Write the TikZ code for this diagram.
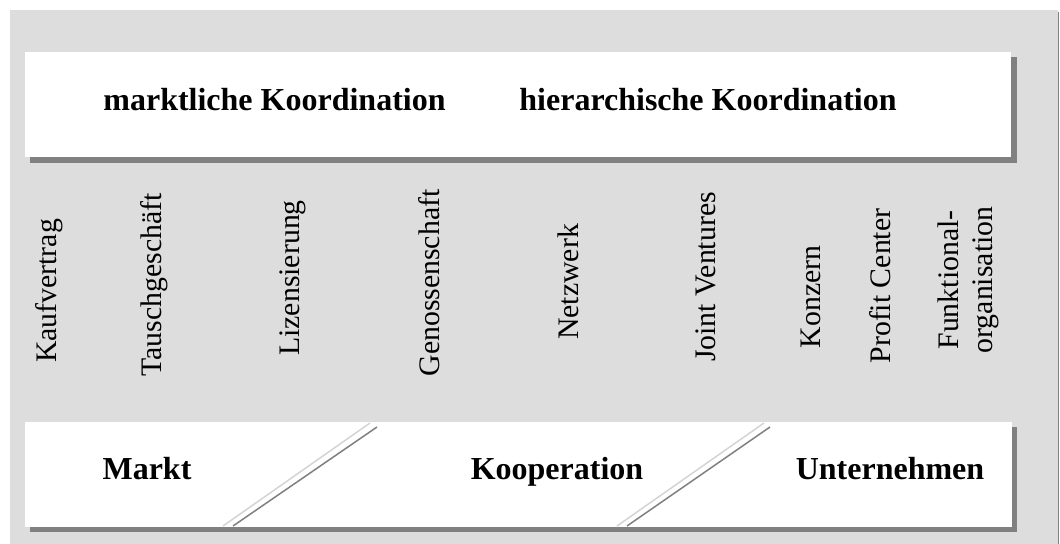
\documentclass[tikz,border=0pt]{standalone}
\usepackage{fontspec}
\setmainfont{Liberation Serif}
\definecolor{panelgray}{HTML}{DDDDDD}
\definecolor{shadowgray}{HTML}{808080}
\definecolor{cutlightgray}{HTML}{D4D4D4}
\begin{document}
\begin{tikzpicture}[x=0.5pt,y=-0.5pt,
  shadowfill/.style={fill=shadowgray},
  bandfill/.style={fill=white},
  cutlight/.style={draw=cutlightgray, line width=0.75pt},
  cutdark/.style={draw=shadowgray, line width=0.75pt},
  heading/.style={font=\bfseries\fontsize{16}{19}\selectfont, inner sep=0pt, anchor=base},
  item/.style={font=\fontsize{14.9}{17}\selectfont, inner sep=0pt, rotate=90, anchor=base}]
\useasboundingbox (0,0) rectangle (1060,544);
% background panel with its right rule
\fill[panelgray] (10,10) rectangle (1058,544);
\draw[shadowgray, line width=0.5pt] (1058.5,12) -- (1058.5,544);

% upper band: coordination forms
\fill[shadowfill] (30,57) rectangle (1017,163);
\fill[bandfill] (25,52) rectangle (1011,157);
\node[heading] (markt-koord) at (274.5,111) {marktliche Koordination};
\node[heading] (hier-koord) at (708,111) {hierarchische Koordination};

% lower band: institutional forms
\fill[shadowfill] (30,427) rectangle (1017,532);
\fill[bandfill] (25,422) rectangle (1012,527);

% diagonal separators in the lower band
\coordinate (cutAlo) at (223,526);
\coordinate (cutAhi) at (370,423);
\coordinate (cutAlo2) at (233,526);
\coordinate (cutAhi2) at (377,427);
\coordinate (cutBlo) at (617,526);
\coordinate (cutBhi) at (764,423);
\coordinate (cutBlo2) at (627,526);
\coordinate (cutBhi2) at (770,427);
\draw[cutlight] (cutAlo) -- (cutAhi);
\draw[cutdark] (cutAlo2) -- (cutAhi2);
\draw[cutlight] (cutBlo) -- (cutBhi);
\draw[cutdark] (cutBlo2) -- (cutBhi2);

\node[heading] (markt) at (147,480) {Markt};
\node[heading] (koop) at (557,480) {Kooperation};
\node[heading] (untern) at (890,480) {Unternehmen};

% arrangements between market and hierarchy
\node[item] (kauf) at (56,291) {Kaufvertrag};
\node[item] (tausch) at (161,285) {Tauschgeschäft};
\node[item] (lizenz) at (299,278) {Lizensierung};
\node[item] (genoss) at (439,283) {Genossenschaft};
\node[item] (netz) at (578,282) {Netzwerk};
\node[item] (joint) at (715,277) {Joint Ventures};
\node[item] (konzern) at (820,297) {Konzern};
\node[item] (profit) at (890,286) {Profit Center};
\node[item, anchor=center, align=center] (funktion) at (968,280) {Funktional-\\organisation};
\end{tikzpicture}
\end{document}
